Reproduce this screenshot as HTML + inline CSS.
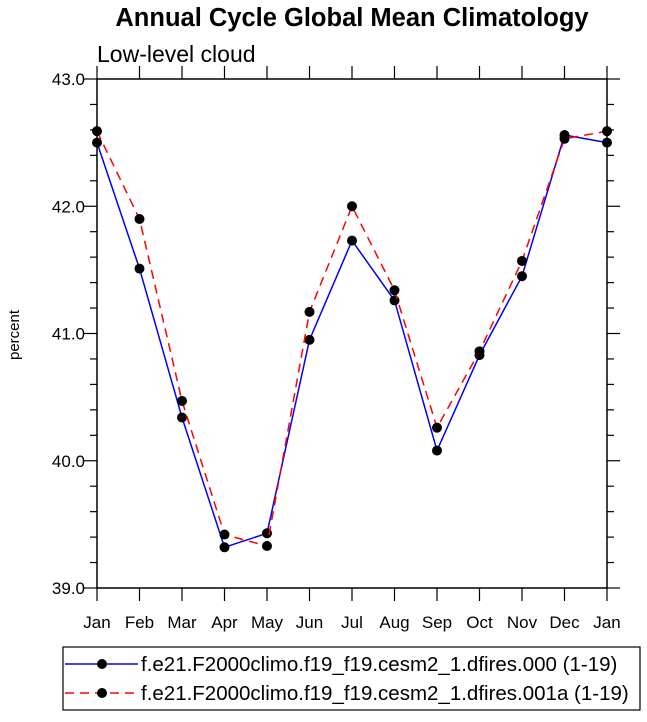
<!DOCTYPE html>
<html><head><meta charset="utf-8"><style>
body{margin:0;background:#fff;}
svg{display:block;font-family:"Liberation Sans",Arial,sans-serif;}
</style></head><body>
<svg id="c" width="647" height="722">
<text x="352" y="26" font-size="25.5" font-weight="bold" text-anchor="middle">Annual Cycle Global Mean Climatology</text>
<text x="97" y="62" font-size="23">Low-level cloud</text>
<text transform="translate(19,335) rotate(-90)" font-size="15" text-anchor="middle">percent</text>
<rect x="97" y="79" width="510" height="509" fill="none" stroke="#000" stroke-width="1.5"/>
<g id="ticks"></g>
<g id="series"></g>
<rect x="63" y="647" width="577" height="63" fill="none" stroke="#000" stroke-width="1.2"/>
<g>
<line x1="65" y1="664" x2="138" y2="664" stroke="#0000ff" stroke-width="1.5"/>
<circle cx="102" cy="664" r="5" fill="#000"/>
<text x="141" y="671" font-size="20.5">f.e21.F2000climo.f19_f19.cesm2_1.dfires.000 (1-19)</text>
</g>
<g>
<line x1="65" y1="693" x2="138" y2="693" stroke="#ff0000" stroke-width="1.5" stroke-dasharray="9,6"/>
<circle cx="102" cy="693" r="5" fill="#000"/>
<text x="141" y="700" font-size="20.5">f.e21.F2000climo.f19_f19.cesm2_1.dfires.001a (1-19)</text>
</g>
</svg>
<script>
const months=["Jan","Feb","Mar","Apr","May","Jun","Jul","Aug","Sep","Oct","Nov","Dec","Jan"];
const series000=[42.50,41.51,40.34,39.32,39.43,40.95,41.73,41.26,40.08,40.83,41.45,42.56,42.50];
const series001a=[42.59,41.90,40.47,39.42,39.33,41.17,42.00,41.34,40.26,40.86,41.57,42.53,42.59];
const yTicks=["39.0","40.0","41.0","42.0","43.0"];
const NS="http://www.w3.org/2000/svg";
const X0=97,X1=607,Y0=588,Y1=79,YMIN=39,YMAX=43;
const xs=i=>X0+(X1-X0)*i/(months.length-1);
const ys=v=>Y0-(Y0-Y1)*(v-YMIN)/(YMAX-YMIN);
function mk(tag,a,p){const e=document.createElementNS(NS,tag);for(const k in a)e.setAttribute(k,a[k]);p.appendChild(e);return e;}
const T=document.getElementById('ticks');
months.forEach((m,i)=>{
 const x=xs(i);
 mk('line',{x1:x,y1:Y0,x2:x,y2:Y0+13,stroke:'#000','stroke-width':1.2},T);
 mk('line',{x1:x,y1:Y1,x2:x,y2:Y1-13,stroke:'#000','stroke-width':1.2},T);
 const t=mk('text',{x:x,y:628,'font-size':17,'text-anchor':'middle'},T);
 t.textContent=m;
 
 
});
for(let k=0;k<=20;k++){
 const v=YMIN+k*0.2,y=ys(v),maj=k%5===0,L=maj?13:7;
 mk('line',{x1:X0,y1:y,x2:X0-L,y2:y,stroke:'#000','stroke-width':1.2},T);
 mk('line',{x1:X1,y1:y,x2:X1+L,y2:y,stroke:'#000','stroke-width':1.2},T);
}
yTicks.forEach(s=>{
 const t=mk('text',{x:85,y:ys(parseFloat(s))+6,'font-size':17,'text-anchor':'end'},T);
 t.textContent=s;
 
 
});
const S=document.getElementById('series');
function draw(vals,color,dash,name){
 const g=mk('g',{},S);
 
 
 const pts=vals.map((v,i)=>xs(i)+','+ys(v)).join(' ');
 const a={points:pts,fill:'none',stroke:color,'stroke-width':1.5};
 if(dash)a['stroke-dasharray']=dash;
 mk('polyline',a,g);
 vals.forEach((v,i)=>{
  const c=mk('circle',{cx:xs(i),cy:ys(v),r:5,fill:'#000'},g);
  
  
 });
}
draw(series000,'#0000ff',null,'series-000');
draw(series001a,'#ff0000','9,6','series-001a');
</script>
</body></html>
